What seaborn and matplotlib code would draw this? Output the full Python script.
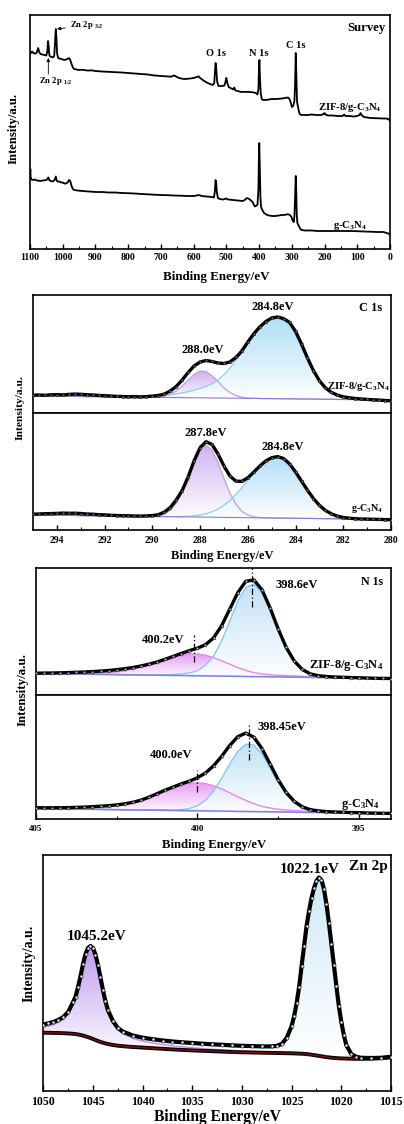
import numpy as np
import matplotlib
matplotlib.use("Agg")
import matplotlib.pyplot as plt
import seaborn as sns
from matplotlib.patches import PathPatch
from matplotlib.colors import LinearSegmentedColormap
from matplotlib.ticker import MultipleLocator

# ====================== DATA ======================
# ---- Survey (binding energy / eV, intensity a.u.) ----
SV_ZIF_E = [1100, 1097, 1093, 1090, 1085, 1080, 1077, 1075, 1072, 1068, 1062, 1056, 1050, 1047, 1045, 1043, 1041,
            1038, 1034, 1030, 1026, 1024, 1022, 1021, 1019, 1017, 1014, 1010, 1005, 1000, 995, 990, 985, 981, 977,
            973, 969, 965, 958, 950, 940, 925, 910, 900, 880, 860, 840, 820, 800, 780, 760, 740, 720, 700, 680, 668,
            662, 656, 645, 630, 615, 600, 590, 585, 580, 570, 560, 550, 542, 537, 535, 533, 531, 528, 524, 515, 506,
            502, 500, 497, 493, 485, 479, 476, 472, 465, 455, 445, 430, 420, 410, 405, 402, 400.5, 399, 397.5, 395,
            392, 388, 380, 370, 360, 345, 330, 320, 312, 307, 303, 300, 296, 292, 290, 288, 286, 284, 281, 278, 275,
            270, 260, 250, 240, 225, 210, 203, 200, 197, 190, 175, 160, 145, 140, 136, 125, 110, 100, 93, 90, 87, 80,
            70, 60, 45, 30, 20, 10, 5, 2, 0]
SV_ZIF_I = [197, 196, 197.5, 196, 195.5, 196, 199, 201, 197, 195, 194.5, 194, 193.5, 198, 208, 203, 194,
            192.5, 192, 191.5, 193, 203, 216, 220, 210, 195, 191, 190.5, 190, 189.5, 189, 189.5, 190, 191, 189,
            185, 181.5, 180, 179.5, 179, 179.2, 178.5, 178.6, 178, 177.5, 177.2, 177, 176.5, 176, 175.5, 175, 174.5,
            173.5, 173, 172.5, 172.3, 173.5, 173, 171, 170, 170.3, 171, 172, 172.6, 171, 168.5, 166.5, 165, 164, 166,
            176, 186, 181, 167, 163, 163, 163.5, 168, 171, 166, 162, 160.5, 159.5, 161.5, 158.5, 158, 157, 157.2,
            157, 156.8, 156, 154.5, 160, 180, 189, 172, 156, 150, 149, 149, 149.5, 150, 150, 150.5, 151, 151.5, 150,
            146, 142, 143, 148, 165, 196, 172, 147, 142, 137, 134.5, 134, 134, 134, 134.5, 134, 134, 135, 136, 134.5,
            133.5, 133.5, 133, 133, 134.5, 133, 133, 132.5, 133, 134, 136, 134, 132, 131.5, 131, 130.8, 130.5, 130.5,
            130.5, 129.5, 130, 128]
SV_G_E = [1100, 1099, 1098, 1096, 1090, 1085, 1080, 1075, 1070, 1060, 1050, 1047, 1044, 1041, 1037, 1030, 1025,
          1021, 1018, 1015, 1010, 1005, 1000, 995, 990, 985, 981, 977, 973, 969, 965, 955, 940, 920, 900, 880, 860,
          840, 820, 800, 780, 760, 740, 720, 700, 680, 660, 640, 620, 600, 590, 585, 575, 560, 545, 538, 535, 533,
          531, 529, 526, 520, 510, 500, 495, 480, 465, 450, 444, 438, 430, 420, 413, 405, 402, 400.5, 399.5, 398,
          396, 394, 390, 385, 378, 370, 360, 350, 340, 330, 320, 312, 306, 301, 297, 294, 292, 290, 288, 286.5, 285,
          283, 280, 277, 274, 270, 260, 240, 220, 200, 180, 160, 140, 120, 100, 80, 60, 40, 20, 10, 5, 0]
SV_G_I = [73, 80, 72, 69.5, 69, 69.5, 68.5, 68.5, 68, 68.5, 69, 70, 71.5, 69, 68, 67.5, 69,
          72.5, 68, 67.5, 67.5, 66.5, 66.5, 65.5, 65.5, 66.5, 69, 68, 63, 60, 59, 58.5, 58, 57.5, 57, 57, 56.5,
          56.5, 56, 55.8, 55.5, 55, 54.7, 54.3, 54, 53.8, 53.5, 53.3, 53, 53, 53.5, 54, 53, 52.5, 52, 51.5, 58, 69,
          66, 57, 51, 50, 49.5, 50.5, 49.5, 49, 48.5, 48, 49, 51, 50, 47, 42.5, 44, 60, 95, 106, 85,
          52, 42, 39, 36, 34.5, 33.5, 33, 33, 33.5, 34, 34.2, 34.8, 34, 32, 28, 27, 33, 52, 73, 58, 35,
          26, 24, 22, 20, 19, 18.5, 18.5, 18, 18, 18, 18, 18, 18, 17.8, 17.5, 17.3, 17, 17, 16, 15.5, 14]

# ---- C 1s (ZIF-8/g-C3N4 top, g-C3N4 bottom) ----
C1S_E = [295.0, 294.75, 294.5, 294.25, 294.0, 293.75, 293.5, 293.25, 293.0, 292.75, 292.5, 292.25, 292.0, 291.75,
         291.5, 291.25, 291.0, 290.75, 290.5, 290.25, 290.0, 289.75, 289.5, 289.25, 289.0, 288.75, 288.5, 288.25,
         288.0, 287.75, 287.5, 287.25, 287.0, 286.75, 286.5, 286.25, 286.0, 285.75, 285.5, 285.25, 285.0, 284.75,
         284.5, 284.25, 284.0, 283.75, 283.5, 283.25, 283.0, 282.75, 282.5, 282.25, 282.0, 281.75, 281.5, 281.25,
         281.0, 280.75, 280.5, 280.25, 280.0]
C1S_ZIF_DATA = [17.8, 18.0, 17.7, 18.2, 18.4, 18.1, 18.6, 18.9, 18.7, 18.3, 18.0, 17.6, 17.3, 17.0, 16.6, 16.5,
                16.2, 16.4, 16.1, 16.4, 16.9, 17.5, 18.9, 22.0, 26.5, 33.0, 40.5, 47.0, 51.0, 52.5, 51.5, 50.0,
                49.5, 51.0, 55.5, 62.0, 71.0, 79.2, 86.0, 91.4, 95.0, 96.0, 94.4, 90.6, 81.6, 69.0, 55.0, 42.4,
                32.3, 25.2, 20.7, 17.9, 16.2, 15.2, 14.5, 14.0, 13.6, 13.2, 12.9, 12.5, 12.2]
C1S_ZIF_BASE = [17.1, 17.0, 16.9, 16.9, 16.8, 16.7, 16.7, 16.6, 16.5, 16.4, 16.4, 16.3, 16.2, 16.2, 16.1, 16.0,
                16.0, 15.9, 15.8, 15.8, 15.7, 15.6, 15.6, 15.5, 15.4, 15.4, 15.3, 15.2, 15.2, 15.1, 15.0, 15.0,
                14.9, 14.8, 14.8, 14.7, 14.6, 14.6, 14.5, 14.4, 14.4, 14.3, 14.2, 14.2, 14.1, 14.0, 14.0, 13.9,
                13.8, 13.7, 13.7, 13.6, 13.5, 13.5, 13.4, 13.3, 13.3, 13.2, 13.1, 13.1, 13.0]
C1S_ZIF_P288 = [0, 0, 0, 0, 0, 0, 0, 0, 0, 0, 0, 0, 0, 0, 0, 0, 0, 0, 0,
                0.05, 0.15, 0.5, 1.3, 3.1, 6.4, 11.5, 17.6, 23.4, 26.7, 26.3, 22.3, 16.4, 10.3, 5.6, 2.7, 1.1,
                0.4, 0.1, 0, 0, 0, 0, 0, 0, 0, 0, 0, 0, 0, 0, 0, 0, 0, 0, 0, 0, 0, 0, 0, 0, 0]
C1S_ZIF_P284 = [0, 0, 0, 0, 0, 0.05, 0.05, 0.1, 0.1, 0.15, 0.15, 0.2, 0.2, 0.3, 0.35, 0.4, 0.5, 0.6, 0.7, 0.85,
                1.0, 1.4, 2.0, 2.7, 3.6, 4.7, 6.0, 7.5, 9.3, 11.5, 14.2, 18, 23.5, 30, 38, 46, 56, 64.5, 71.5, 77,
                80.5, 81.5, 80, 76.5, 67.5, 55, 41, 28.5, 18.5, 11.5, 7, 4.3, 2.7, 1.7, 1.1, 0.75, 0.5, 0.35, 0.2,
                0.15, 0.1]
C1S_G_DATA = [15.8, 16.0, 16.3, 16.4, 16.6, 16.9, 16.7, 16.8, 16.5, 16.0, 15.8, 15.3, 15.1, 14.7, 14.5, 14.3,
              14.2, 14.0, 13.9, 14.1, 14.4, 15.3, 17.8, 22.5, 30.0, 39.5, 53.0, 69.2, 82.3, 88.3, 85.6, 76.0,
              64.0, 54.0, 48.9, 48.6, 52.2, 57.9, 63.9, 69.0, 72.3, 73.4, 71.5, 66.1, 58.1, 48.9, 39.8, 31.5,
              24.7, 19.6, 16.2, 13.9, 12.5, 11.8, 11.3, 11.0, 10.9, 10.7, 10.6, 10.4, 10.3]
C1S_G_BASE = [15.0, 14.9, 14.9, 14.8, 14.7, 14.6, 14.6, 14.5, 14.4, 14.3, 14.3, 14.2, 14.1, 14.0, 14.0, 13.9,
              13.8, 13.7, 13.7, 13.6, 13.5, 13.4, 13.4, 13.3, 13.2, 13.1, 13.1, 13.0, 12.9, 12.8, 12.8, 12.7,
              12.6, 12.5, 12.5, 12.4, 12.3, 12.2, 12.2, 12.1, 12.0, 11.9, 11.9, 11.8, 11.7, 11.6, 11.6, 11.5,
              11.4, 11.3, 11.3, 11.2, 11.1, 11.0, 11.0, 10.9, 10.8, 10.7, 10.7, 10.6, 10.5]
C1S_G_P288 = [0, 0, 0, 0, 0, 0, 0, 0, 0, 0, 0, 0, 0, 0, 0, 0, 0, 0,
              0.1, 0.2, 0.3, 1.0, 2.6, 6.3, 13.3, 24.4, 39.2, 55.0, 67.3, 72.0, 67.3, 55.0, 39.2, 24.4, 13.3, 6.3,
              2.6, 1.0, 0.3, 0.1, 0, 0, 0, 0, 0, 0, 0, 0, 0, 0, 0, 0, 0, 0, 0, 0, 0, 0, 0, 0, 0]
C1S_G_P284 = [0, 0, 0, 0, 0, 0, 0, 0, 0, 0, 0, 0, 0, 0, 0, 0, 0, 0, 0, 0, 0, 0,
              0.1, 0.1, 0.2, 0.4, 0.7, 1.2, 2.1, 3.5, 5.5, 8.3, 12.2, 17.1, 23.1, 29.9, 37.3, 44.7, 51.4, 56.8,
              60.3, 61.5, 59.6, 54.3, 46.4, 37.3, 28.2, 20.0, 13.3, 8.3, 4.9, 2.7, 1.4, 0.7, 0.3, 0.2, 0.1,
              0, 0, 0, 0]

# ---- N 1s ----
N1S_E = [405.0, 404.75, 404.5, 404.25, 404.0, 403.75, 403.5, 403.25, 403.0, 402.75, 402.5, 402.25, 402.0, 401.75,
         401.5, 401.25, 401.0, 400.75, 400.5, 400.25, 400.0, 399.75, 399.5, 399.25, 399.0, 398.75, 398.5, 398.25,
         398.0, 397.75, 397.5, 397.25, 397.0, 396.75, 396.5, 396.25, 396.0, 395.75, 395.5, 395.25, 395.0, 394.75,
         394.5, 394.25, 394.0]
N1S_ZIF_DATA = [21.8, 21.9, 22.0, 22.2, 22.4, 22.7, 23.0, 23.4, 23.9, 24.5, 25.3, 26.3, 27.5, 29.0, 30.8, 33.0,
                35.7, 38.6, 41.5, 44.3, 46.8, 50.3, 57.0, 69.2, 85.6, 102.2, 113.7, 115.1, 105.4, 87.4, 66.4, 47.7,
                34.1, 25.6, 21.1, 19.3, 18.5, 18.0, 17.7, 17.45, 17.2, 16.95, 16.7, 16.6, 16.5]
N1S_ZIF_BASE = [21.5, 21.4, 21.3, 21.2, 21.0, 20.9, 20.8, 20.7, 20.6, 20.5, 20.4, 20.2, 20.1, 20.0, 19.9, 19.8,
                19.7, 19.6, 19.5, 19.3, 19.2, 19.1, 19.0, 18.9, 18.8, 18.7, 18.5, 18.4, 18.3, 18.2, 18.1, 18.0,
                17.9, 17.8, 17.6, 17.5, 17.4, 17.3, 17.2, 17.1, 17.0, 16.9, 16.7, 16.6, 16.5]
N1S_ZIF_P400 = [0.5, 0.6, 0.6, 0.7, 0.8, 1.0, 1.2, 1.4, 1.7, 2.1, 2.7, 3.9, 5.7, 7.9, 10.5, 13.3, 16.3, 18.8,
                20.8, 21.8, 21.9, 20.7, 18.4, 15.3, 12.1, 8.8, 6.1, 4.0, 2.7, 2.1, 1.7, 1.4, 1.2, 0.9, 0.7, 0.5,
                0.4, 0.3, 0.2, 0.15, 0.1, 0.05, 0, 0, 0]
N1S_ZIF_P398 = [0, 0, 0, 0, 0, 0, 0, 0, 0, 0, 0, 0, 0, 0, 0, 0.1, 0.3, 0.8, 1.5, 2.8, 5.0, 10.5, 19.6, 35.0,
                54.7, 74.7, 89.1, 92.7, 84.4, 67.1, 46.6, 28.3, 15.0, 6.9, 2.8, 1.3, 0.7, 0.4, 0.3, 0.2, 0.1, 0,
                0, 0, 0]
N1S_G_DATA = [11.3, 11.2, 11.2, 11.3, 11.4, 11.6, 11.9, 12.3, 12.8, 13.3, 14.1, 15.2, 16.7, 18.8, 21.8, 25.3,
              28.8, 32.0, 35.1, 37.8, 41.2, 46.0, 53.1, 62.6, 73.4, 82.3, 85.9, 81.8, 70.5, 55.2, 39.5, 26.6,
              17.7, 12.2, 9.3, 8.1, 7.4, 7.05, 6.75, 6.5, 6.35, 6.0, 5.85, 5.7, 5.6]
N1S_G_BASE = [10.5, 10.3, 10.2, 10.1, 10.0, 9.9, 9.8, 9.7, 9.6, 9.4, 9.3, 9.2, 9.1, 9.0, 8.9, 8.8, 8.7, 8.5,
              8.4, 8.3, 8.2, 8.1, 8.0, 7.9, 7.8, 7.6, 7.5, 7.4, 7.3, 7.2, 7.1, 7.0, 6.9, 6.7, 6.6, 6.5, 6.4, 6.3,
              6.2, 6.1, 6.0, 5.8, 5.7, 5.6, 5.5]
N1S_G_P400 = [0.8, 0.9, 1.0, 1.2, 1.4, 1.7, 2.1, 2.6, 3.2, 3.9, 4.8, 6.0, 7.6, 9.7, 12.8, 16.3, 19.8, 23.0,
              25.7, 27.4, 28.0, 27.3, 25.3, 22.2, 18.5, 14.7, 11.1, 7.9, 5.4, 3.8, 2.7, 2.0, 1.6, 1.3, 1.0, 0.8,
              0.6, 0.5, 0.4, 0.3, 0.25, 0.2, 0.15, 0.1, 0.1]
N1S_G_P398 = [0, 0, 0, 0, 0, 0, 0, 0, 0, 0, 0, 0, 0, 0, 0.1, 0.15, 0.3, 0.5, 1.0, 2.1, 5.0, 10.6, 19.8, 32.5,
              47.1, 60.0, 67.3, 66.5, 57.8, 44.2, 29.7, 17.6, 9.2, 4.2, 1.7, 0.8, 0.4, 0.25, 0.15, 0.1, 0.1, 0,
              0, 0, 0]
N1S_ZIF_CENTERS = [398.3, 400.1]
N1S_G_CENTERS = [398.4, 400.0]

# ---- Zn 2p ----
ZN_E = [1050, 1049.5, 1049, 1048.5, 1048, 1047.5, 1047, 1046.75, 1046.5, 1046.25, 1046, 1045.75, 1045.5, 1045.25,
        1045, 1044.75, 1044.5, 1044.25, 1044, 1043.75, 1043.5, 1043, 1042.5, 1042, 1041, 1040, 1039, 1038, 1037,
        1036, 1035, 1034, 1033, 1032, 1031, 1030, 1029, 1028, 1027, 1026.5, 1026, 1025.5, 1025, 1024.75, 1024.5,
        1024.25, 1024, 1023.75, 1023.5, 1023.25, 1023, 1022.75, 1022.5, 1022.25, 1022, 1021.75, 1021.5, 1021.25,
        1021, 1020.75, 1020.5, 1020.25, 1020, 1019.75, 1019.5, 1019, 1018.5, 1018, 1017, 1016, 1015]
ZN_DATA = [66.5, 67.6, 69.0, 71.0, 73.8, 79.0, 89.0, 94.5, 104, 115, 127, 137, 143, 145,
           143, 136.5, 126, 114, 101, 90, 81, 70, 63, 59.5, 55.5, 53.3, 51.8, 50.5, 49.5,
           48.7, 48.0, 47.3, 46.7, 46.2, 45.6, 45.2, 44.9, 44.6, 44.6, 45.2, 47.0, 53, 65, 75, 88,
           104, 125, 145, 165, 180, 193, 203, 210, 213.5, 211, 202, 187, 168,
           147, 126, 105, 85, 69, 56, 46, 37, 34.2, 33.2, 33.0, 33.2, 34.2]
ZN_BASE = [58.3, 58.2, 58.1, 58.0, 57.8, 57.6, 57.2, 56.9, 56.5, 56.0, 55.4, 54.7, 53.9, 53.0,
           52.0, 51.0, 50.0, 49.1, 48.3, 47.6, 47.0, 46.0, 45.3, 44.8, 44.0, 43.4, 42.8, 42.2, 41.6,
           41.1, 40.6, 40.2, 39.8, 39.4, 39.0, 38.7, 38.5, 38.3, 38.1, 38.0, 37.9, 37.8, 37.7, 37.6, 37.5,
           37.4, 37.3, 37.1, 36.9, 36.6, 36.3, 35.9, 35.5, 35.1, 34.7, 34.3, 33.9, 33.6,
           33.3, 33.1, 32.9, 32.7, 32.6, 32.5, 32.4, 32.3, 32.2, 32.2, 32.3, 32.8, 33.7]
ZN_P1045 = [5.5, 6.7, 8.2, 10.5, 14, 20, 31, 36, 46.3, 57.5, 70, 80.7, 87.5, 90.3,
            89.3, 83.8, 74.3, 63.2, 51, 40.7, 32.3, 22.3, 15.8, 12.5, 8.6, 6.5, 5.3, 4.3, 3.6,
            3.1, 2.7, 2.3, 2.0, 1.8, 1.6, 1.4, 1.2, 1.0, 0.9, 0.8, 0.7, 0.6, 0.5, 0.5, 0.45,
            0.45, 0.4, 0.4, 0.4, 0.4, 0.35, 0.35, 0.35, 0.35, 0.3, 0.3, 0.3, 0.3,
            0.3, 0.25, 0.25, 0.25, 0.25, 0.2, 0.2, 0.2, 0.2, 0.15, 0.15, 0.1, 0.1]

# ====================== STYLE ======================
sns.set_theme(style="ticks")
plt.rcParams.update({
    "font.family": ["Liberation Serif", "DejaVu Serif"],
    "font.weight": "bold",
    "mathtext.fontset": "custom",
    "mathtext.rm": "Liberation Serif:bold",
    "mathtext.it": "Liberation Serif:bold:italic",
    "mathtext.bf": "Liberation Serif:bold",
    "mathtext.default": "rm",
    "axes.linewidth": 1.2,
    "axes.edgecolor": "black",
    "xtick.color": "black",
    "text.color": "black",
    "xtick.direction": "in",
})

W, H = 404, 1124
fig = plt.figure(figsize=(W / 100, H / 100), dpi=100)
fig.patch.set_facecolor("white")


def px_axes(x0, y0, x1, y1):
    ax = fig.add_axes([x0 / W, 1 - y1 / H, (x1 - x0) / W, (y1 - y0) / H])
    ax.set_facecolor("white")
    for s in ax.spines.values():
        s.set_visible(True)
        s.set_linewidth(1.2)
        s.set_color("black")
    ax.set_yticks([])
    return ax


def grad_fill(ax, x, top, bottom, color, alpha=1.0, z=1):
    x = np.asarray(x, float)
    top = np.asarray(top, float)
    bottom = np.asarray(bottom, float)
    poly = ax.fill_between(x, top, bottom, facecolor="none", edgecolor="none", lw=0)
    path = poly.get_paths()[0]
    patch = PathPatch(path, transform=ax.transData, facecolor="none", edgecolor="none")
    cmap = LinearSegmentedColormap.from_list("g", ["white", color])
    im = ax.imshow(np.linspace(0, 1, 256).reshape(-1, 1), cmap=cmap, aspect="auto", origin="lower",
                   extent=[x.min(), x.max(), bottom.min(), top.max()], zorder=z, alpha=alpha,
                   interpolation="bilinear")
    im.set_clip_path(patch)


def line(ax, x, y, color, lw, z=2, **kw):
    sns.lineplot(x=list(x), y=list(y), ax=ax, color=color, linewidth=lw, estimator=None, sort=False,
                 zorder=z, **kw)


def dots(ax, x, y, s, face, ew, z=4):
    sns.scatterplot(x=list(x), y=list(y), ax=ax, s=s, marker="o", color=face, edgecolor="black",
                    linewidth=ew, zorder=z, legend=False)


def clean(ax):
    ax.set_xlabel("")
    ax.set_ylabel("")


def atext(ax, fx, fy, s, size, ha="center", va="center"):
    ax.text(fx, fy, s, transform=ax.transAxes, fontsize=size, ha=ha, va=va, fontweight="bold", zorder=6)


def ftext(x, y, s, size, rot=0):
    fig.text(x / W, 1 - y / H, s, fontsize=size, ha="center", va="center", rotation=rot, fontweight="bold")


# ====================== SURVEY ======================
ax = px_axes(30, 15, 390, 249)
line(ax, SV_ZIF_E, SV_ZIF_I, "black", 1.3)
line(ax, SV_G_E, SV_G_I, "black", 1.3)
ax.set_xlim(1100, 0)
ax.set_ylim(0, 234)
ax.xaxis.set_major_locator(MultipleLocator(100))
ax.xaxis.set_minor_locator(MultipleLocator(50))
ax.tick_params(axis="x", which="major", length=3.5, width=1.0, pad=3, labelsize=7)
ax.tick_params(axis="x", which="minor", length=2, width=0.8)
clean(ax)
for lab in ax.get_xticklabels():
    lab.set_fontweight("bold")
ax.text(15, 221, "Survey", fontsize=9.2, ha="right", va="center", fontweight="bold")
ax.text(533, 196, "O 1s", fontsize=7.5, ha="center", va="center")
ax.text(400, 196, "N 1s", fontsize=7.5, ha="center", va="center")
ax.text(288, 204, "C 1s", fontsize=7.5, ha="center", va="center")
ax.text(25, 141, "ZIF-8/g-C$_3$N$_4$", fontsize=7.7, ha="right", va="center")
ax.text(71, 23, "g-C$_3$N$_4$", fontsize=7.7, ha="right", va="center")
ax.annotate("Zn 2p $_{3/2}$", xy=(1017, 220), xytext=(978, 224), fontsize=6.2, ha="left", va="center",
            arrowprops=dict(arrowstyle="-|>", color="black", lw=0.6, mutation_scale=5, shrinkA=1, shrinkB=0))
ax.annotate("", xy=(1044, 191), xytext=(1044, 175),
            arrowprops=dict(arrowstyle="-|>", color="black", lw=0.6, mutation_scale=5, shrinkA=0, shrinkB=0))
ax.text(1022, 168, "Zn 2p $_{1/2}$", fontsize=6.2, ha="center", va="center")
ftext(216.7, 277, "Binding Energy/eV", 9.4)
ftext(13.3, 128, "Intensity/a.u.", 9.2, rot=90)

# ====================== C 1s ======================
C_BLUE, C_PURP = "#a3d8f7", "#cfb2f0"


def c1s_panel(ax, data, base, p288, p284):
    b = np.asarray(base)
    top288 = b + np.asarray(p288)
    top284 = b + np.asarray(p284)
    grad_fill(ax, C1S_E, top288, b, C_PURP, z=1)
    grad_fill(ax, C1S_E, top284, b, C_BLUE, alpha=0.85, z=1.1)
    line(ax, C1S_E, top288, "#c39ae9", 0.9, z=2)
    line(ax, C1S_E, top284, "#8ccdf3", 0.9, z=2)
    line(ax, C1S_E, base, "#9178d6", 0.8, z=2)
    line(ax, C1S_E, data, "black", 2.4, z=3)
    dots(ax, C1S_E, data, 3.5, "#6e6e6e", 0.3)
    ax.set_xlim(295, 280)
    clean(ax)


axU = px_axes(33, 295, 391, 413)
c1s_panel(axU, C1S_ZIF_DATA, C1S_ZIF_BASE, C1S_ZIF_P288, C1S_ZIF_P284)
axU.set_ylim(0, 118)
axU.set_xticks([])
atext(axU, 0.975, 0.887, "C 1s", 9, ha="right")
atext(axU, 0.671, 0.896, "284.8eV", 9)
atext(axU, 0.473, 0.534, "288.0eV", 9)
atext(axU, 0.997, 0.223, "ZIF-8/g-C$_3$N$_4$", 7.6, ha="right")

axL = px_axes(33, 413, 391, 530)
c1s_panel(axL, C1S_G_DATA, C1S_G_BASE, C1S_G_P288, C1S_G_P284)
axL.set_ylim(0, 117)
axL.xaxis.set_major_locator(MultipleLocator(2))
axL.xaxis.set_minor_locator(MultipleLocator(1))
axL.tick_params(axis="x", which="major", length=3.5, width=1.0, pad=4, labelsize=7)
axL.tick_params(axis="x", which="minor", length=2, width=0.8)
for lab in axL.get_xticklabels():
    lab.set_fontweight("bold")
atext(axL, 0.483, 0.832, "287.8eV", 9)
atext(axL, 0.697, 0.707, "284.8eV", 9)
atext(axL, 0.978, 0.185, "g-C$_3$N$_4$", 7.2, ha="right")
ftext(222, 556, "Binding Energy/eV", 9)
ftext(20, 408, "Intensity/a.u.", 8.2, rot=90)

# ====================== N 1s ======================
N_BLUE, N_PURP = "#b6ddf6", "#e69af2"


def n1s_panel(ax, data, base, p400, p398, centers, marks):
    b = np.asarray(base)
    top400 = b + np.asarray(p400)
    top398 = b + np.asarray(p398)
    grad_fill(ax, N1S_E, top400, b, N_PURP, z=1)
    grad_fill(ax, N1S_E, top398, b, N_BLUE, alpha=0.85, z=1.1)
    line(ax, N1S_E, top400, "#e387ee", 1.0, z=2)
    line(ax, N1S_E, top398, "#88c8f0", 1.0, z=2)
    line(ax, N1S_E, base, "#7d86e6", 1.2, z=2)
    line(ax, N1S_E, data, "black", 2.4, z=3)
    dots(ax, N1S_E, data, 4, "#bdbdbd", 0.4)
    for c, (lo, hi) in zip(centers, marks):
        ax.vlines(c, lo, hi, colors="black", linestyles=(0, (5, 2, 1, 2)), lw=0.9, zorder=5)
    ax.set_xlim(405, 394)
    clean(ax)


axU = px_axes(36, 568, 391, 695)
n1s_panel(axU, N1S_ZIF_DATA, N1S_ZIF_BASE, N1S_ZIF_P400, N1S_ZIF_P398, N1S_ZIF_CENTERS,
          [(88, 127), (33, 60)])
axU.set_ylim(0, 127)
axU.set_xticks([])
atext(axU, 0.978, 0.892, "N 1s", 8.6, ha="right")
atext(axU, 0.734, 0.866, "398.6eV", 9)
atext(axU, 0.359, 0.433, "400.2eV", 9)
atext(axU, 0.978, 0.236, "ZIF-8/g-C$_3$N$_4$", 9, ha="right")

axL = px_axes(36, 695, 391, 819)
n1s_panel(axL, N1S_G_DATA, N1S_G_BASE, N1S_G_P400, N1S_G_P398, N1S_G_CENTERS,
          [(59, 95), (27, 49)])
axL.set_ylim(0, 124)
axL.xaxis.set_major_locator(MultipleLocator(5))
axL.xaxis.set_minor_locator(MultipleLocator(2.5))
axL.tick_params(axis="x", which="major", length=4, width=1.0, pad=4.5, labelsize=6.5)
axL.tick_params(axis="x", which="minor", length=2.5, width=0.8)
for lab in axL.get_xticklabels():
    lab.set_fontweight("bold")
atext(axL, 0.694, 0.744, "398.45eV", 9)
atext(axL, 0.38, 0.516, "400.0eV", 9)
atext(axL, 0.969, 0.113, "g-C$_3$N$_4$", 8.8, ha="right")
ftext(214.5, 845, "Binding Energy/eV", 9.2)
ftext(23, 690, "Intensity/a.u.", 9.4, rot=90)

# ====================== Zn 2p ======================
ax = px_axes(43.3, 855, 391, 1091)
zb = np.asarray(ZN_BASE)
ztop_p = zb + np.asarray(ZN_P1045)
grad_fill(ax, ZN_E, ztop_p, zb, "#c19cf2", z=1)
k = ZN_E.index(1043)
grad_fill(ax, ZN_E[k:], ZN_DATA[k:], ztop_p[k:], "#cfe9f8", z=1.1)
line(ax, ZN_E, ztop_p, "#b993f0", 1.0, z=2)
line(ax, ZN_E, ZN_BASE, "black", 2.8, z=2)
line(ax, ZN_E, ZN_BASE, "#7a1010", 1.0, z=2.1)
line(ax, ZN_E, ZN_DATA, "black", 3.0, z=3)
dots(ax, ZN_E, ZN_DATA, 5, "#e6e6e6", 0.4)
ax.set_xlim(1050, 1015)
ax.set_ylim(0, 236)
ax.xaxis.set_major_locator(MultipleLocator(5))
ax.xaxis.set_minor_locator(MultipleLocator(2.5))
ax.tick_params(axis="x", which="major", length=4, width=1.0, pad=3.5, labelsize=8.5)
ax.tick_params(axis="x", which="minor", length=2.5, width=0.8)
for lab in ax.get_xticklabels():
    lab.set_fontweight("bold")
clean(ax)
atext(ax, 0.99, 0.95, "Zn 2p", 11, ha="right")
atext(ax, 0.765, 0.939, "1022.1eV", 11)
atext(ax, 0.154, 0.654, "1045.2eV", 11)
ftext(218, 1117, "Binding Energy/eV", 11.2)
ftext(29, 963, "Intensity/a.u.", 9.9, rot=90)

fig.savefig("out.png", dpi=100, facecolor="white")
